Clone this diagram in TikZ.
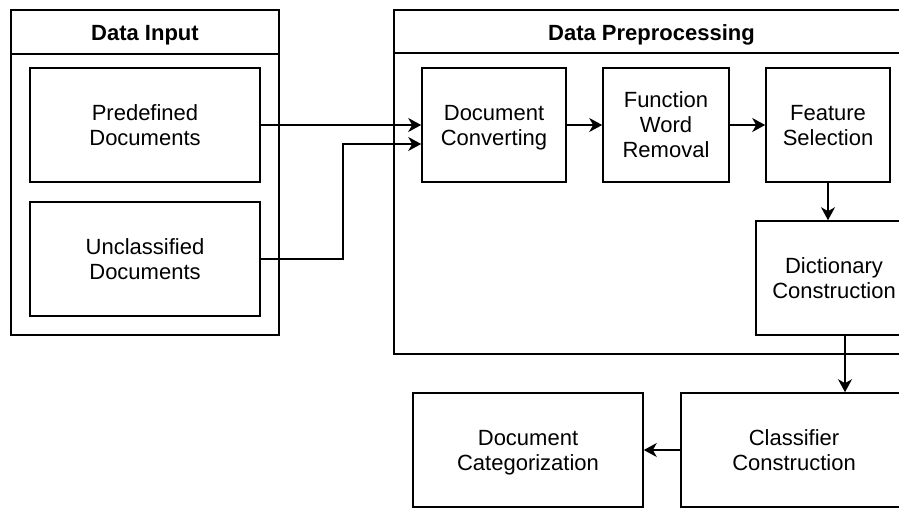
\documentclass[tikz,border=0pt]{standalone}
\usepackage{fontspec}
\setmainfont{Liberation Sans}
\usetikzlibrary{arrows.meta, positioning}

\begin{document}
\begin{tikzpicture}[x=1pt, y=-1pt,
  line width=1.6pt,
  every node/.style={font=\fontsize{22}{25}\selectfont},
  stage/.style={draw, align=center, inner sep=0pt, text depth=0pt},
  group/.style={draw, inner sep=0pt},
  grouptitle/.style={font=\fontsize{22}{25}\selectfont\bfseries, text depth=0pt},
  flow/.style={-{Stealth[length=13pt, width=14pt, inset=4pt]}}]

  \useasboundingbox (0,0) rectangle (899,509);
  \clip (0,0) rectangle (899,509);

  % containers
  \node[group, minimum width=268pt, minimum height=325pt] (input) at (145,172.5) {};
  \node[grouptitle] (inputtitle) at (145,33) {Data Input};
  \draw (11,54) -- (279,54);

  \node[group, minimum width=515pt, minimum height=344pt] (prep) at (651.5,182) {};
  \node[grouptitle] (preptitle) at (651.5,33) {Data Preprocessing};
  \draw (394,53) -- (909,53);

  % stages
  \node[stage, minimum width=230pt, minimum height=114pt] (predef) at (145,125) {Predefined\\Documents};
  \node[stage, minimum width=230pt, minimum height=114pt] (unclass) at (145,259) {Unclassified\\Documents};

  \node[stage, minimum width=144pt, minimum height=114pt] (conv) at (494,125) {Document\\Converting};
  \node[stage, minimum width=126pt, minimum height=114pt] (fwr) at (666,125) {Function\\Word\\Removal};
  \node[stage, minimum width=124pt, minimum height=114pt] (featsel) at (828,125) {Feature\\Selection};
  \node[stage, minimum width=156pt, minimum height=114pt] (dict) at (834,278) {Dictionary\\Construction};

  \node[stage, minimum width=226pt, minimum height=114pt] (classif) at (794,450) {Classifier\\Construction};
  \node[stage, minimum width=230pt, minimum height=114pt] (doccat) at (528,450) {Document\\Categorization};

  % connectors
  \draw[flow] (predef.east) -- (predef.east -| conv.west);
  \draw[flow] (unclass.east) -- ++(82,0) |- ([yshift=-19pt]conv.west);
  \draw[flow] (conv.east) -- (fwr.west);
  \draw[flow] (fwr.east) -- (featsel.west);
  \draw[flow] (featsel.south) -- (featsel.south |- dict.north);
  \draw[flow] ([xshift=11pt]dict.south) -- ([xshift=11pt]dict.south |- classif.north);
  \draw[flow] (classif.west) -- (doccat.east);
\end{tikzpicture}
\end{document}
